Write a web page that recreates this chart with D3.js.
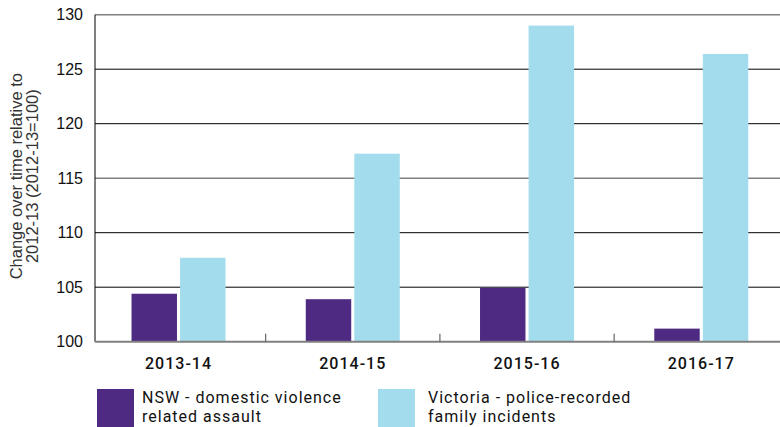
<!DOCTYPE html>
<html><head><meta charset="utf-8">
<script src="https://cdn.jsdelivr.net/npm/d3@7"></script>
<style>body{margin:0;background:#fff}svg{display:block}</style>
</head><body>
<svg id="c" width="780" height="427"></svg>
<script>
const categories = ["2013-14", "2014-15", "2015-16", "2016-17"];
const seriesNames = ["NSW - domestic violence related assault", "Victoria - police-recorded family incidents"];
const nswValues = [104.4, 103.9, 104.95, 101.2];
const vicValues = [107.7, 117.25, 129.0, 126.4];
const yTicks = [100, 105, 110, 115, 120, 125, 130];
const legendLines = [["NSW - domestic violence", "related assault"], ["Victoria - police-recorded", "family incidents"]];
const colors = ["#4e2a83", "#a3dcec"];

(function () {
const svg = d3.select("#c");
const mL = 95, mT = 14.7, mB = 341.7;
const x = d3.scaleBand().domain(categories).range([91.4, 788.4]);
const y = d3.scaleLinear().domain([100, 130]).range([mB, mT]);
const barW = 44, gap = 6;
const inner = d3.scaleBand().domain([0, 1]).range([0, barW * 2 + gap]).paddingInner(gap / (barW * 2 + gap));

const grid = svg.append("g");
yTicks.filter(t => t > 100).forEach(t => {
  const grey = (t === 115 || t === 130);
  grid.append("line").attr("x1", mL).attr("x2", 780)
    .attr("y1", y(t)).attr("y2", y(t))
    .attr("stroke", grey ? "#808080" : "#000")
    .attr("stroke-width", grey ? 1.4 : 1);
});

const off = (x.bandwidth() - (barW * 2 + gap)) / 2;
[nswValues, vicValues].forEach((vals, si) => {
  svg.append("g").selectAll("rect").data(vals).join("rect")
    .attr("x", (d, i) => x(categories[i]) + off + inner(si))
    .attr("width", inner.bandwidth())
    .attr("y", d => y(d))
    .attr("height", d => y(100) - y(d))
    .attr("fill", colors[si]);
});

svg.append("line").attr("x1", mL).attr("x2", mL).attr("y1", mT).attr("y2", mB)
  .attr("stroke", "#000").attr("stroke-width", 1);

const yAxis = d3.axisLeft(y).tickValues(yTicks).tickSize(0).tickPadding(12);
const ya = svg.append("g").attr("transform", `translate(${mL},0)`).call(yAxis);
ya.select(".domain").remove();
ya.selectAll("text").attr("font-family", "Liberation Sans, Arial, sans-serif").attr("font-size", 16).attr("fill", "#111");

const xAxis = d3.axisBottom(x).tickSize(0).tickPadding(16);
const xa = svg.append("g").attr("transform", `translate(0,${mB})`).call(xAxis);
xa.select(".domain").remove();
xa.selectAll("text").attr("font-family", "Roboto, sans-serif").attr("font-weight", 500)
  .attr("font-size", 16).attr("letter-spacing", 1).attr("fill", "#111");
svg.append("line").attr("x1", mL).attr("x2", 780).attr("y1", mB).attr("y2", mB)
  .attr("stroke", "#808080").attr("stroke-width", 2);
svg.append("g").selectAll("line").data(categories.slice(1)).join("line")
  .attr("x1", d => x(d)).attr("x2", d => x(d))
  .attr("y1", mB - 8).attr("y2", mB)
  .attr("stroke", "#666").attr("stroke-width", 1.2);

const yt = svg.append("text").attr("transform", `translate(22,${(mT + mB) / 2 - 2}) rotate(-90)`)
  .attr("text-anchor", "middle").attr("font-family", "Liberation Sans, Arial, sans-serif")
  .attr("font-size", 16.5).attr("fill", "#333");
yt.append("tspan").attr("x", 0).attr("dy", 0).text("Change over time relative to");
yt.append("tspan").attr("x", 0).attr("dy", 16).text("2012-13 (2012-13=100)");

const legX = [97, 378];
legendLines.forEach((lines, i) => {
  const g = svg.append("g").attr("transform", `translate(${legX[i]},389)`);
  g.append("rect").attr("width", 37).attr("height", 38).attr("fill", colors[i]);
  const t = g.append("text").attr("font-family", "Roboto, sans-serif").attr("font-size", 16)
    .attr("letter-spacing", 1).attr("fill", "#111");
  lines.forEach((l, j) => t.append("tspan").attr("x", i === 0 ? 45 : 50).attr("y", 14 + j * 19).text(l));
});
})();
</script>
</body></html>
